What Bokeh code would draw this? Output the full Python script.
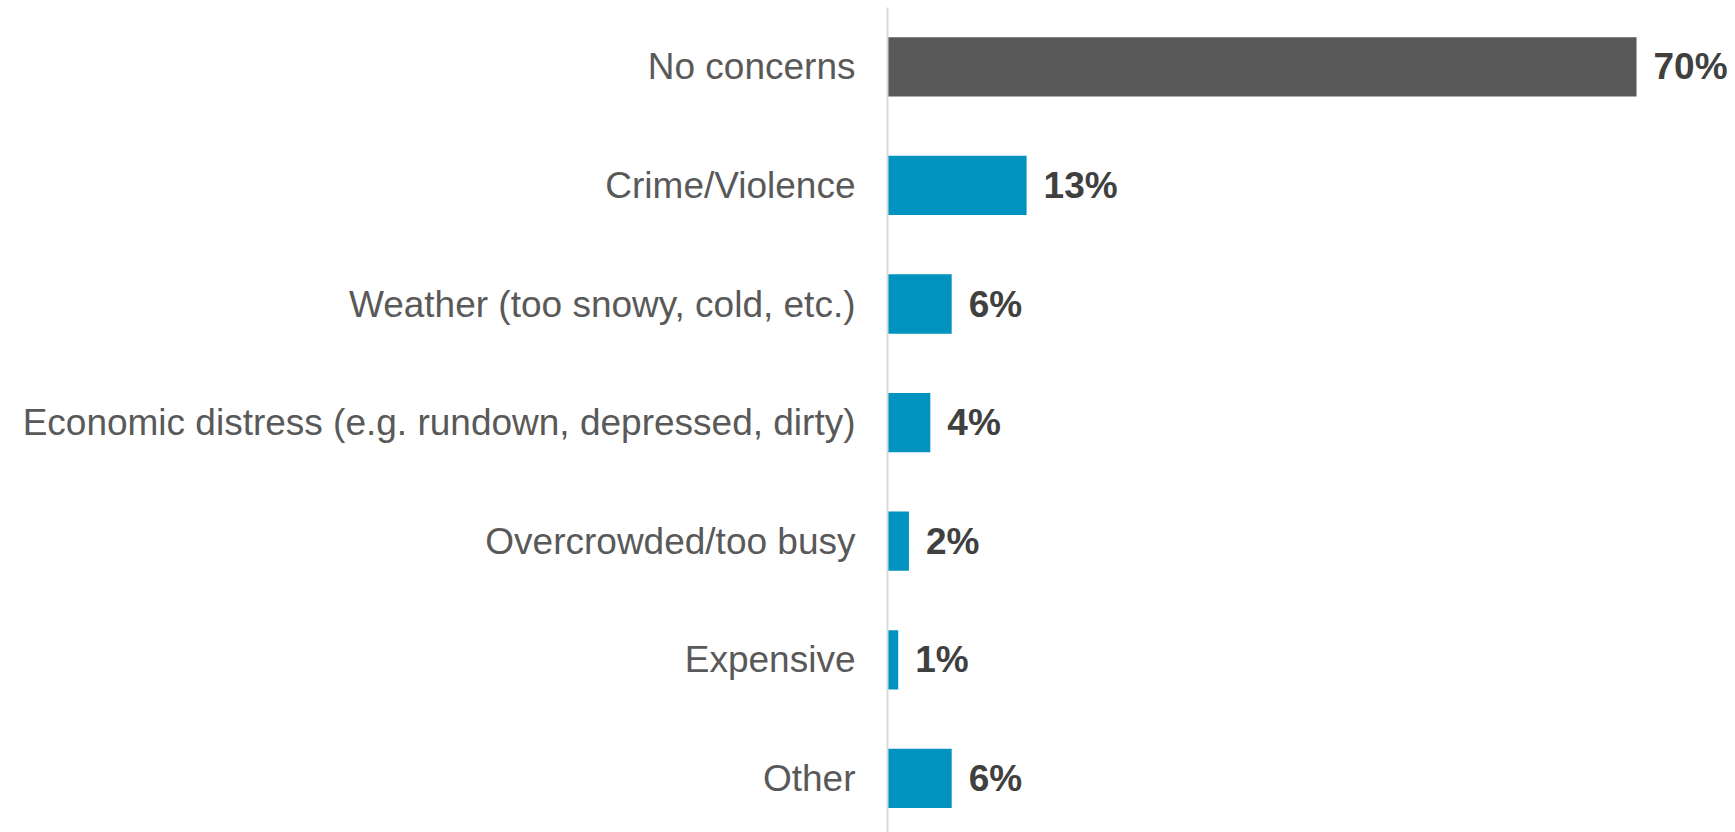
from bokeh.plotting import figure
from bokeh.models import ColumnDataSource, Range1d, LinearAxis, FixedTicker
from bokeh.embed import file_html
from bokeh.resources import INLINE
from bokeh.core.properties import value

categories = [
    "No concerns",
    "Crime/Violence",
    "Weather (too snowy, cold, etc.)",
    "Economic distress (e.g. rundown, depressed, dirty)",
    "Overcrowded/too busy",
    "Expensive",
    "Other",
]
percents = [70, 13, 6, 4, 2, 1, 6]
bar_colors = ["#595959", "#0093C0", "#0093C0", "#0093C0", "#0093C0", "#0093C0", "#0093C0"]

rows = list(range(len(categories)))
source = ColumnDataSource(dict(
    row=rows,
    pct=percents,
    color=bar_colors,
    label=[f"{v}%" for v in percents],
))

W, H = 1735, 832
LEFT = 887
TOP = 7

p = figure(
    width=W, height=H,
    output_backend="svg", toolbar_location=None,
    x_range=Range1d(0, 79.25),
    y_range=Range1d(6.456, -0.5),
    x_axis_location=None, y_axis_location=None,
    min_border_left=LEFT, min_border_right=0, min_border_top=TOP, min_border_bottom=0,
)
p.outline_line_color = None
p.xgrid.visible = False
p.ygrid.visible = False
p.background_fill_color = "white"
p.border_fill_color = "white"

yaxis = LinearAxis(
    ticker=FixedTicker(ticks=rows),
    major_label_overrides={i: c for i, c in enumerate(categories)},
    major_tick_line_color=None,
    minor_tick_line_color=None,
    major_tick_out=0, major_tick_in=0,
    axis_line_color="#D9D9D9",
    axis_line_width=2,
    major_label_standoff=32,
    major_label_text_font="Liberation Sans",
    major_label_text_font_size="37px",
    major_label_text_color="#595959",
)
p.add_layout(yaxis, "left")

p.hbar(y="row", right="pct", left=0, height=0.5, color="color", line_color=None, source=source)

p.text(
    x="pct", y="row", text="label", source=source,
    x_offset=17, text_align="left", text_baseline="middle",
    text_font=value("Liberation Sans"), text_font_style="bold",
    text_font_size="37px", text_color="#404040",
)

open("out.html", "w").write(file_html(p, INLINE))
